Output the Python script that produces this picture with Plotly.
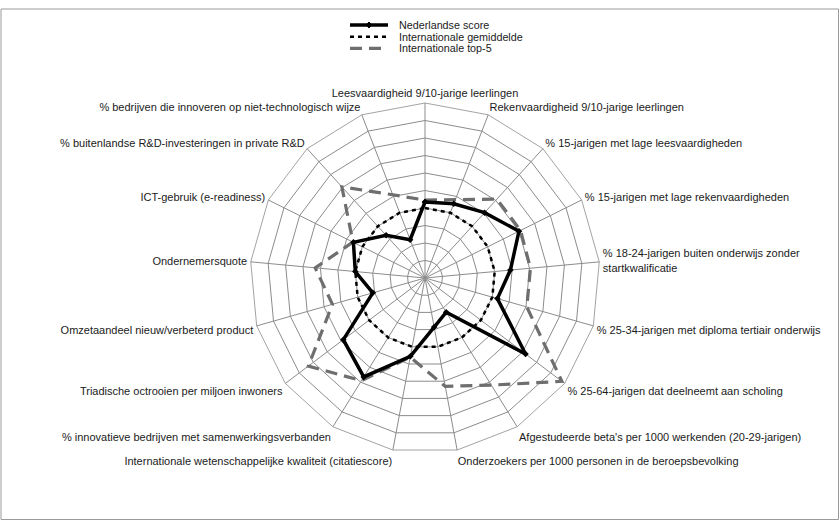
import plotly.graph_objects as go

categories = [
    "Leesvaardigheid 9/10-jarige leerlingen",
    "Rekenvaardigheid 9/10-jarige leerlingen",
    "% 15-jarigen met lage leesvaardigheden",
    "% 15-jarigen met lage rekenvaardigheden",
    "% 18-24-jarigen buiten onderwijs zonder<br>startkwalificatie",
    "% 25-34-jarigen met diploma tertiair onderwijs",
    "% 25-64-jarigen dat deelneemt aan scholing",
    "Afgestudeerde beta's per 1000 werkenden (20-29-jarigen)",
    "Onderzoekers per 1000 personen in de beroepsbevolking",
    "Internationale wetenschappelijke kwaliteit (citatiescore)",
    "% innovatieve bedrijven met samenwerkingsverbanden",
    "Triadische octrooien per miljoen inwoners",
    "Omzetaandeel nieuw/verbeterd product",
    "Ondernemersquote",
    "ICT-gebruik (e-readiness)",
    "% buitenlandse R&D-investeringen in private R&D",
    "% bedrijven die innoveren op niet-technologisch wijze",
]

nederland = [4.35, 4.55, 5.05, 6.0, 4.9, 4.3, 7.2, 2.3, 2.85, 4.55,
             6.65, 5.85, 3.1, 4.0, 4.57, 3.3, 2.35]
gemiddelde = [4.0] * 17
top5 = [4.45, 4.8, 6.1, 6.1, 6.05, 6.05, 9.8, 7.2, 6.3, 4.6,
        6.9, 8.35, 5.5, 6.3, 4.6, 7.05, 5.1]

series_names = ["Nederlandse score", "Internationale gemiddelde", "Internationale top-5"]


def closed(vals):
    return list(vals) + [vals[0]]


theta = closed(categories)

NL_STYLE = dict(color="black", width=3.5)
AVG_STYLE = dict(color="black", width=2.5, dash="4px,4px")
TOP_STYLE = dict(color="#6e6e6e", width=3.2, dash="12px,7px")

fig = go.Figure()
fig.add_trace(go.Scatterpolar(
    r=closed(gemiddelde), theta=theta, mode="lines", name=series_names[1],
    line=AVG_STYLE, showlegend=False,
))
fig.add_trace(go.Scatterpolar(
    r=closed(top5), theta=theta, mode="lines", name=series_names[2],
    line=TOP_STYLE, showlegend=False,
))
fig.add_trace(go.Scatterpolar(
    r=closed(nederland), theta=theta, mode="lines+markers", name=series_names[0],
    line=NL_STYLE,
    marker=dict(symbol="diamond", size=5, color="black"),
    showlegend=False,
))

font_family = "Arial, Liberation Sans, Helvetica, sans-serif"

W, H = 840, 521
ml, mr, mt, mb = 10, 0, 103, 68
pw, ph = W - ml - mr, H - mt - mb


def px_x(x):
    return (x - ml) / pw


def px_y(y):
    return (H - mb - y) / ph


# manual legend (compact, like the original)
legend_rows = [25, 36.7, 48.3]
sym_x0, sym_x1, text_x = 350, 388, 397
shapes = []
annotations = []
styles = [NL_STYLE, AVG_STYLE, TOP_STYLE]
for name, yrow, st in zip(series_names, legend_rows, styles):
    line = dict(color=st["color"], width=st["width"])
    if "dash" in st:
        line["dash"] = st["dash"]
    shapes.append(dict(
        type="line", xref="paper", yref="paper",
        x0=px_x(sym_x0), x1=px_x(sym_x1), y0=px_y(yrow), y1=px_y(yrow),
        line=line,
    ))
    annotations.append(dict(
        text=name, xref="paper", yref="paper", x=px_x(text_x), y=px_y(yrow),
        xanchor="left", yanchor="middle", showarrow=False,
        font=dict(size=10.75, family=font_family, color="#1a1a1a"),
    ))
# diamond marker on the first legend symbol
cx, cy, d = (sym_x0 + sym_x1) / 2, legend_rows[0], 3
shapes.append(dict(
    type="path", xref="paper", yref="paper",
    path=(f"M {px_x(cx - d)},{px_y(cy)} L {px_x(cx)},{px_y(cy - d)} "
          f"L {px_x(cx + d)},{px_y(cy)} L {px_x(cx)},{px_y(cy + d)} Z"),
    fillcolor="black", line=dict(color="black", width=1),
))
# frame
shapes.append(dict(
    type="rect", xref="paper", yref="paper",
    x0=px_x(1), x1=px_x(838.5), y0=px_y(519.5), y1=px_y(9),
    line=dict(color="#9a9a9a", width=1), fillcolor="rgba(0,0,0,0)",
    layer="below",
))

fig.update_layout(
    width=W, height=H,
    margin=dict(l=ml, r=mr, t=mt, b=mb),
    paper_bgcolor="white",
    font=dict(family=font_family, size=11, color="#1a1a1a"),
    showlegend=False,
    polar=dict(
        domain=dict(x=[0, 1], y=[0, 1]),
        bgcolor="white",
        radialaxis=dict(
            range=[0, 10], dtick=1, showticklabels=False, ticks="",
            showline=False, gridcolor="#8c8c8c", gridwidth=0.8,
        ),
        angularaxis=dict(
            direction="clockwise", rotation=90,
            ticks="outside", ticklen=1, tickcolor="rgba(0,0,0,0)",
            showline=True, linecolor="#8c8c8c", linewidth=0.8,
            gridcolor="#8c8c8c", gridwidth=0.8,
            tickfont=dict(size=11, family=font_family, color="#1a1a1a"),
        ),
        gridshape="linear",
    ),
    shapes=shapes,
    annotations=annotations,
)

fig.write_html(
    "out.html",
    config={"displayModeBar": False},
    post_script="document.body.style.margin='0';document.documentElement.style.overflow='hidden';",
)
